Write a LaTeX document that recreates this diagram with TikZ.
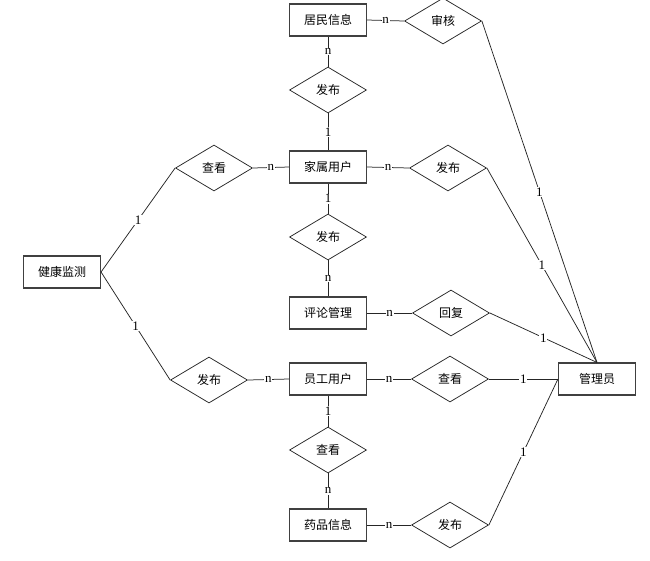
\documentclass[tikz,border=0pt]{standalone}
\usepackage{fontspec}
\setmainfont{Liberation Serif}
\newfontfamily\cjk{Noto Sans CJK SC}
\usetikzlibrary{shapes.geometric}
\begin{document}
\begin{tikzpicture}[x=1pt,y=-1pt,
 ent/.style={draw=black!75, line width=1.1pt, minimum width=77pt, minimum height=32pt, inner sep=0pt, font=\cjk\fontsize{12}{13}\selectfont},
 rel/.style={draw=black!85, diamond, line width=0.75pt, minimum width=77pt, minimum height=46pt, inner sep=0pt, font=\cjk\fontsize{12}{13}\selectfont},
 lbl/.style={fill=white, inner sep=0.8pt, font=\fontsize{13}{14}\selectfont},
 con/.style={draw=black!85, line width=0.75pt}]
\useasboundingbox (0,0) rectangle (650,560);
\node[ent] (jm) at (328,20) {居民信息};
\node[rel] (sh) at (443,21) {审核};
\node[rel] (fb1) at (328,90) {发布};
\node[ent] (js) at (328,167) {家属用户};
\node[rel] (ck1) at (214,168) {查看};
\node[rel] (fb2) at (448,168) {发布};
\node[rel] (fb3) at (328,237) {发布};
\node[ent] (pl) at (328,313) {评论管理};
\node[rel] (hf) at (451,313) {回复};
\node[ent] (yg) at (328,379) {员工用户};
\node[rel] (fb4) at (209,380) {发布};
\node[rel] (ck2) at (450,379) {查看};
\node[ent] (gl) at (597,379) {管理员};
\node[rel] (ck3) at (328,450) {查看};
\node[ent] (yp) at (328,525) {药品信息};
\node[rel] (fb5) at (450,525) {发布};
\node[ent] (jk) at (62,272) {健康监测};

\path[con] (jm.east) -- node[lbl]{n} (sh.west);
\path[con] (sh.east) -- node[lbl]{1} (gl.north);
\path[con] (jm.south) -- node[lbl]{n} (fb1.north);
\path[con] (fb1.south) -- node[lbl]{1} (js.north);
\path[con] (ck1.west) -- node[lbl]{1} (jk.east);
\path[con] (ck1.east) -- node[lbl]{n} (js.west);
\path[con] (js.east) -- node[lbl]{n} (fb2.west);
\path[con] (fb2.east) -- node[lbl]{1} (gl.north);
\path[con] (js.south) -- node[lbl]{1} (fb3.north);
\path[con] (fb3.south) -- node[lbl]{n} (pl.north);
\path[con] (pl.east) -- node[lbl]{n} (hf.west);
\path[con] (hf.east) -- node[lbl]{1} (gl.north);
\path[con] (jk.east) -- node[lbl]{1} (fb4.west);
\path[con] (fb4.east) -- node[lbl]{n} (yg.west);
\path[con] (yg.east) -- node[lbl]{n} (ck2.west);
\path[con] (ck2.east) -- node[lbl]{1} (gl.west);
\path[con] (yg.south) -- node[lbl]{1} (ck3.north);
\path[con] (ck3.south) -- node[lbl]{n} (yp.north);
\path[con] (yp.east) -- node[lbl]{n} (fb5.west);
\path[con] (fb5.east) -- node[lbl]{1} (gl.west);
\end{tikzpicture}
\end{document}
